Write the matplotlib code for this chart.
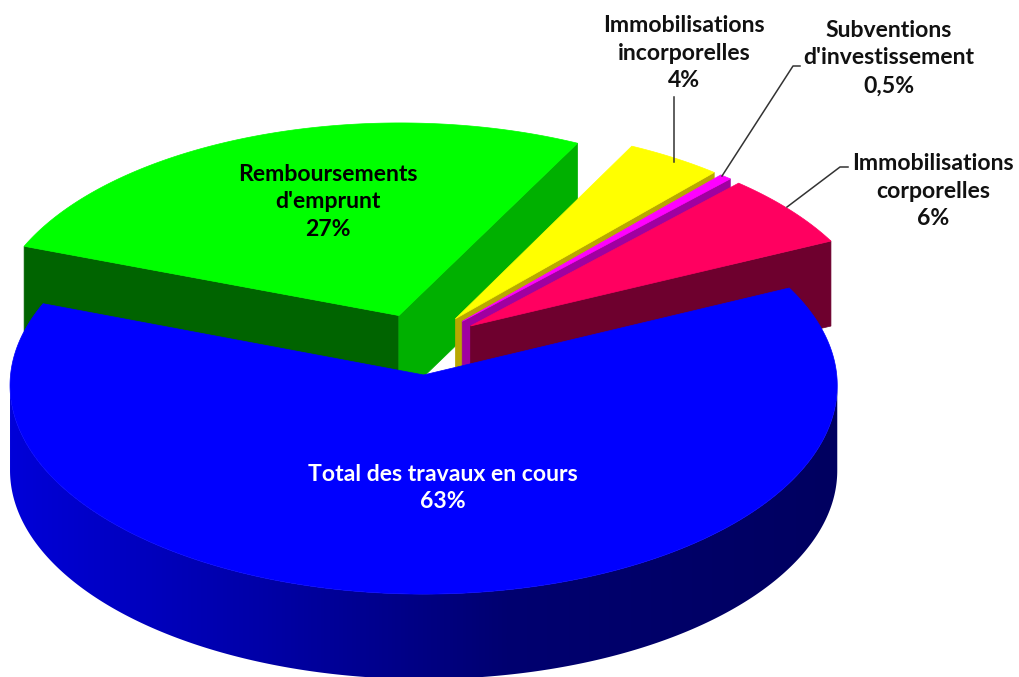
import numpy as np
import matplotlib
matplotlib.use("Agg")
import matplotlib.pyplot as plt
from matplotlib.colors import LinearSegmentedColormap
from matplotlib.patches import Polygon

# clockwise from the left edge of the green slice
labels = ["Remboursements\nd'emprunt\n27%", "Immobilisations\nincorporelles\n4%",
          "Subventions\nd'investissement\n0,5%", "Immobilisations\ncorporelles\n6%",
          "Total des travaux en cours\n63%"]
values = [27, 4, 0.5, 6, 63]
top_colors = ["#00ff00", "#ffff00", "#ff00ff", "#ff0060", "#0000ff"]
wall_colors = ["#00b000", "#b8a800", "#a000a0", "#6e002e", "#000060"]
first_wall_color = "#006400"

W, H = 1019, 677
CX, CY = 421, 344
A, B = 410, 205
PERSP = 0.05
EXPLODE = 0.15
DEPTH = 85
START = 159.6


def project(x, y):
    k = 1 + PERSP * y
    return CX + A * x / k, CY - B * y / k


def slice_pts(a0, a1, n=400):
    mid = np.radians((a0 + a1) / 2)
    ox, oy = EXPLODE * np.cos(mid), EXPLODE * np.sin(mid)
    t = np.radians(np.linspace(a0, a1, n))
    rim = project(ox + np.cos(t), oy + np.sin(t))
    apex = project(ox, oy)
    return apex, rim


def wall(ax, p, q, color, z):
    pts = [p, q, (q[0], q[1] + DEPTH), (p[0], p[1] + DEPTH)]
    ax.add_patch(Polygon(pts, closed=True, fc=color, ec=color, lw=0.5, zorder=z))


fig = plt.figure(figsize=(W / 100, H / 100), dpi=100)
ax = fig.add_axes([0, 0, 1, 1])

blue_shade = LinearSegmentedColormap.from_list(
    "shade", [(0, "#0000d8"), (0.3, "#0000a8"), (0.6, "#000070"), (1, "#000060")])

total = sum(values)
angle = START
z = 1
for i, v in enumerate(values):
    a0 = angle
    a1 = angle - v / total * 360
    angle = a1
    apex, (rx, ry) = slice_pts(a0, a1)
    if i == 4:
        # outer wall of the big slice: gradient image clipped to the wall shape
        # only the stretch between the two side extremes faces the viewer
        i0, i1 = np.argmax(rx), np.argmin(rx) + 1
        wx, wy = rx[i0:i1], ry[i0:i1]
        outline = list(zip(wx, wy)) + list(zip(wx[::-1], wy[::-1] + DEPTH))
        clip = Polygon(outline, closed=True, transform=ax.transData, fc="none", ec="none")
        ax.add_patch(clip)
        grad = np.linspace(0, 1, 512).reshape(1, -1)
        im = ax.imshow(grad, cmap=blue_shade, aspect="auto", zorder=z,
                       extent=(rx.min(), rx.max(), H + 40, 0))
        im.set_clip_path(clip)
    else:
        if i == 0:
            wall(ax, apex, (rx[0], ry[0]), first_wall_color, z)
        wall(ax, apex, (rx[-1], ry[-1]), wall_colors[i], z)
    z += 1
    pts = [apex] + list(zip(rx, ry))
    ax.add_patch(Polygon(pts, closed=True, fc=top_colors[i], ec=top_colors[i], lw=0.5, zorder=z))
    z += 1

ax.set_xlim(0, W)
ax.set_ylim(H, 0)
ax.axis("off")

# leader lines
leaders = [([674, 674], [162, 97]),
           ([722, 793, 800], [176, 66, 66]),
           ([787, 840, 848], [207, 167, 167])]
for lx, ly in leaders:
    ax.plot(lx, ly, color="#333333", lw=1.1, zorder=z)

font = dict(family="Lato", fontweight="bold", fontsize=16.6, ha="center", va="center",
            linespacing=1.4, zorder=z + 1)
label_pos = [(328, 202, "black"), (684, 53, "#111111"), (889, 58, "#111111"),
             (933, 191, "#111111"), (443, 488, "white")]
for text, (x, y, col) in zip(labels, label_pos):
    ax.text(x, y, text, color=col, **font)

fig.savefig("out.png", dpi=100)
